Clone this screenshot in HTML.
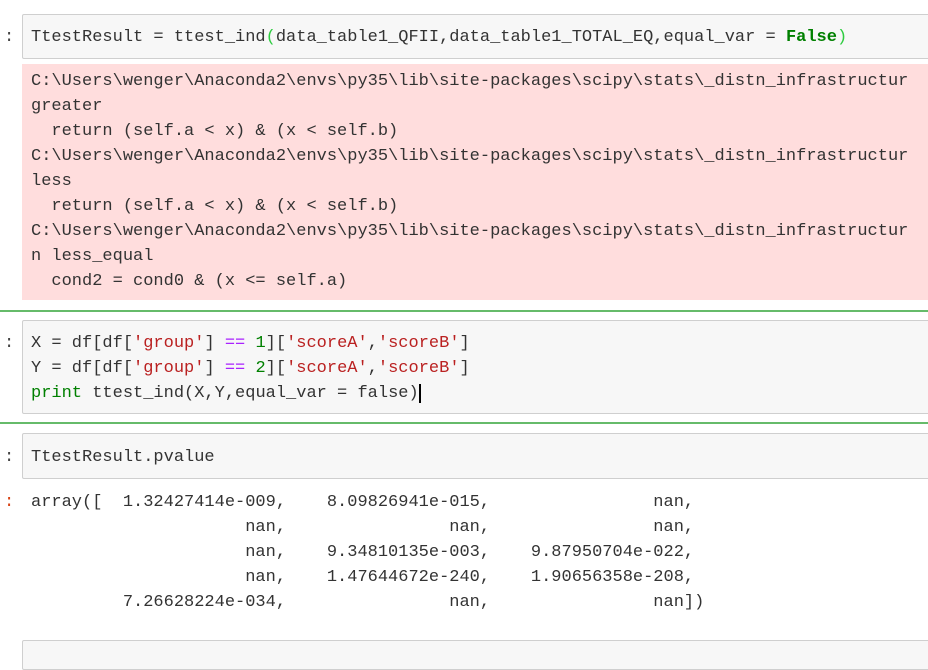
<!DOCTYPE html>
<html><head><meta charset="utf-8"><style>
body{margin:0;width:928px;height:652px;background:#fff;overflow:hidden;position:relative;font-family:"Liberation Mono","Noto Sans CJK SC",monospace;font-size:17px;color:#333}
.box{position:absolute;left:22px;width:920px;background:#f7f7f7;border:1px solid #cfcfcf;border-radius:2px;box-sizing:border-box}
.err{position:absolute;left:22px;width:910px;background:#fdd}
.g{position:absolute;left:0;width:928px;height:2px;background:#66bb6a}
.l{position:absolute;left:31px;white-space:pre;line-height:25px;height:25px}
.p{position:absolute;left:4px;white-space:pre;line-height:25px;color:#444}
.o{color:#d84315}
.kw{color:#008000;font-weight:bold}
.pr{color:#008000}
.s{color:#ba2121}
.op{color:#aa22ff}
.n{color:#008000}
.br{color:#2ecc40}
</style></head><body>
<div class="box" style="top:14px;height:45px"></div>
<div class="p" style="top:25px">:</div>
<div class="l" style="top:25px">TtestResult = ttest_ind<span class="br">(</span>data_table1_QFII,data_table1_TOTAL_EQ,equal_var = <span class="kw">False</span><span class="br">)</span></div>
<div class="err" style="top:64px;height:236px"></div>
<div class="l" style="top:69px">C:\Users\wenger\Anaconda2\envs\py35\lib\site-packages\scipy\stats\_distn_infrastructur</div>
<div class="l" style="top:94px">greater</div>
<div class="l" style="top:119px">  return (self.a &lt; x) &amp; (x &lt; self.b)</div>
<div class="l" style="top:144px">C:\Users\wenger\Anaconda2\envs\py35\lib\site-packages\scipy\stats\_distn_infrastructur</div>
<div class="l" style="top:169px">less</div>
<div class="l" style="top:194px">  return (self.a &lt; x) &amp; (x &lt; self.b)</div>
<div class="l" style="top:219px">C:\Users\wenger\Anaconda2\envs\py35\lib\site-packages\scipy\stats\_distn_infrastructur</div>
<div class="l" style="top:244px">n less_equal</div>
<div class="l" style="top:269px">  cond2 = cond0 &amp; (x &lt;= self.a)</div>

<div class="g" style="top:310px"></div>
<div class="box" style="top:320px;height:94px"></div>
<div class="p" style="top:331px">:</div>
<div class="l" style="top:331px">X = df[df[<span class="s">'group'</span>] <span class="op">==</span> <span class="n">1</span>][<span class="s">'scoreA'</span>,<span class="s">'scoreB'</span>]</div>
<div class="l" style="top:356px">Y = df[df[<span class="s">'group'</span>] <span class="op">==</span> <span class="n">2</span>][<span class="s">'scoreA'</span>,<span class="s">'scoreB'</span>]</div>
<div class="l" style="top:381px"><span class="pr">print</span> ttest_ind(X,Y,equal_var = false)<span style="border-left:2px solid #000"></span></div>
<div class="g" style="top:422px"></div>

<div class="box" style="top:433px;height:46px"></div>
<div class="p" style="top:445px">:</div>
<div class="l" style="top:445px">TtestResult.pvalue</div>

<div class="p o" style="top:490px">:</div>
<div class="l" style="top:490px">array([  1.32427414e-009,    8.09826941e-015,                nan,</div>
<div class="l" style="top:515px">                     nan,                nan,                nan,</div>
<div class="l" style="top:540px">                     nan,    9.34810135e-003,    9.87950704e-022,</div>
<div class="l" style="top:565px">                     nan,    1.47644672e-240,    1.90656358e-208,</div>
<div class="l" style="top:590px">         7.26628224e-034,                nan,                nan])</div>

<div class="box" style="top:640px;height:30px"></div>
</body></html>
